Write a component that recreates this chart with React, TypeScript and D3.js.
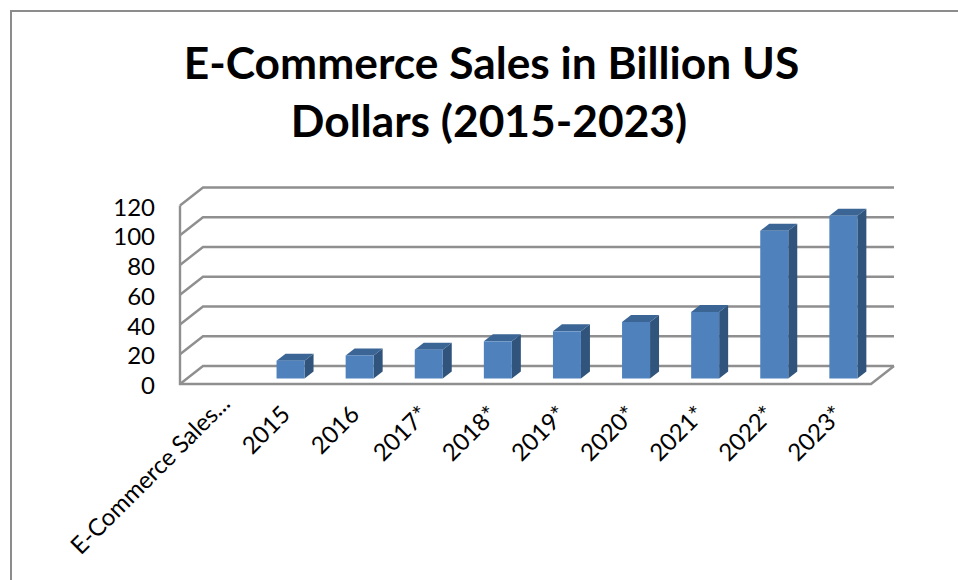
import React from "react";
import * as d3 from "d3";

const categories = ["E-Commerce Sales...", "2015", "2016", "2017*", "2018*", "2019*", "2020*", "2021*", "2022*", "2023*"];
const values: (number | null)[] = [null, 12, 15.5, 19.4, 25, 31.7, 38, 44.7, 99.3, 109.4];
const yTicks = [0, 20, 40, 60, 80, 100, 120];
const titleLines = ["E-Commerce Sales in Billion US", "Dollars (2015-2023)"];

const font = "Lato, 'Open Sans', sans-serif";
const grid = "#8f8f8f";
const front = "#4f81bd";
const top = "#3a6595";
const side = "#31547c";

export default function App() {
  const x = d3.scaleBand<string>().domain(categories).range([180, 871]);
  const y = d3.scaleLinear().domain([0, 120]).range([384, 205.5]);
  const barY = d3.scaleLinear().domain([0, 120]).range([378.5, 200]);
  const depthX = 23, depthY = 18;
  const barW = 28, bdx = 9, bdy = 7, barShift = 6.9;
  return (
    <svg width={958} height={580} style={{ position: "absolute", left: 0, top: 0, background: "#fff" }}>
      <path d="M11,580V11H958" fill="none" stroke="#8c8c8c" strokeWidth={2} />
      {titleLines.map((t, i) => (
        <text key={t} x={i === 0 ? 491.5 : 489} y={79 + i * 58} textAnchor="middle" fontFamily={font} fontWeight={700} fontSize={44.3} fill="#000">{t}</text>
      ))}
      <g fill="none" stroke={grid} strokeWidth={2.4}>
        {yTicks.map((t) => (
          <path key={t} d={`M180,${y(t)}L${180 + depthX},${y(t) - depthY}H${871 + depthX}`} />
        ))}
        <path d={`M180,${y(120)}V${y(0)}H871L${871 + depthX},${y(0) - depthY}`} />
      </g>
      {categories.map((c, i) => {
        const v = values[i];
        if (v == null) return null;
        const x0 = x(c)! + x.bandwidth() / 2 + barShift - barW / 2;
        const x1 = x0 + barW;
        const yT = barY(v);
        const yB = barY(0);
        return (
          <g key={c}>
            <path d={`M${x1},${yT}L${x1 + bdx},${yT - bdy}V${yB - bdy}L${x1},${yB}Z`} fill={side} />
            <path d={`M${x0},${yT}L${x0 + bdx},${yT - bdy}H${x1 + bdx}L${x1},${yT}Z`} fill={top} />
            <rect x={x0} y={yT} width={barW} height={yB - yT} fill={front} />
          </g>
        );
      })}
      {yTicks.map((t) => (
        <text key={t} x={155} y={y(t) + 10} textAnchor="end" fontFamily={font} fontSize={24} fill="#000">{t}</text>
      ))}
      {categories.map((c, i) => {
        const cx = x(c)! + x.bandwidth() / 2 + (i === 0 ? 17 : 8);
        return (
          <text key={c} transform={`translate(${cx},${i === 0 ? 405 : 416}) rotate(-45)`} textAnchor="end" fontFamily={font} fontSize={24} fill="#000">{c}</text>
        );
      })}
    </svg>
  );
}
